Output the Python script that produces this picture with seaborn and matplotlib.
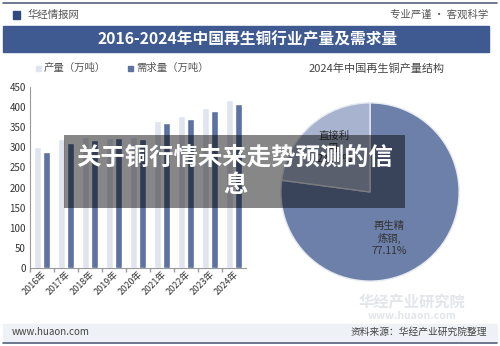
import numpy as np
import pandas as pd
import matplotlib
matplotlib.use("Agg")
import matplotlib.pyplot as plt
from matplotlib.patches import Rectangle
import seaborn as sns

# data
years = ["2016年", "2017年", "2018年", "2019年", "2020年", "2021年", "2022年", "2023年", "2024年"]
output = [300, 321, 325, 324, 326, 366, 377, 397, 417]      # 产量（万吨）
demand = [289, 311, 319, 323, 321, 360, 370, 391, 407]      # 需求量（万吨）
pie_labels = ["再生精\n炼铜,\n77.11%", "直接利\n用,\n22.89%"]
pie_values = [77.11, 22.89]

series_names = ["产量（万吨）", "需求量（万吨）"]
bar_colors = ["#dfe4ee", "#5d72a0"]
pie_colors = ["#6c80aa", "#a8b4cf"]

sns.set_theme(style="white")
plt.rcParams["font.family"] = ["Noto Sans CJK SC", "DejaVu Sans"]

df = pd.DataFrame({
    "year": years * 2,
    "value": output + demand,
    "series": [series_names[0]] * len(years) + [series_names[1]] * len(years),
})

fig = plt.figure(figsize=(5, 3.46), dpi=100)
fig.patch.set_facecolor("white")
W, H = 500, 346


def fx(px):
    return px / W


def fy(py):
    return 1 - py / H


# header strip
fig.add_artist(plt.Line2D([fx(3), fx(497)], [fy(3), fy(3)], color="#55607a", lw=1.2))
fig.add_artist(Rectangle((fx(13), fy(19)), fx(7), 8 / H, color="#2f4a80"))
fig.text(fx(28), fy(15), "华经情报网", fontsize=7.5, color="#555555", va="center")
fig.text(fx(488), fy(15), "专业严谨 • 客观科学", fontsize=7.5, color="#555555", va="center", ha="right")
fig.add_artist(Rectangle((fx(3), fy(52)), fx(486), 26 / H, color="#3e5a91"))
fig.text(fx(248), fy(39), "2016-2024年中国再生铜行业产量及需求量", fontsize=11.3,
         fontweight="bold", color="white", ha="center", va="center")

# bar chart
ax = fig.add_axes([fx(30), fy(268), fx(216), 181 / H])
sns.barplot(data=df, x="year", y="value", hue="series", palette=bar_colors,
            width=0.7, gap=0.12, ax=ax, legend=False, saturation=1)
ax.set_ylim(0, 450)
ax.set_yticks(np.arange(0, 451, 50))
ax.set_xlabel("")
ax.set_ylabel("")
for s in ["top", "right"]:
    ax.spines[s].set_visible(False)
ax.spines["left"].set_color("#999999")
ax.spines["bottom"].set_color("#999999")
ax.spines["left"].set_linewidth(0.8)
ax.spines["bottom"].set_linewidth(0.8)
ax.tick_params(axis="y", labelsize=7, colors="#333333", length=0, pad=3)
ax.tick_params(axis="x", labelsize=6.5, colors="#333333", length=3, bottom=True,
               width=0.6, pad=1)
ax.set_xticks(np.arange(len(years)) - 0.5, minor=True)
ax.tick_params(axis="x", which="minor", length=3, bottom=True, color="#999999")
ax.tick_params(axis="x", which="major", length=0)
for lab in ax.get_xticklabels():
    lab.set_rotation(45)
    lab.set_ha("right")
    lab.set_rotation_mode("anchor")
ax.set_facecolor("none")

# legend
for i, (name, c) in enumerate(zip(series_names, bar_colors)):
    x0 = 36 + i * 92
    fig.add_artist(Rectangle((fx(x0), fy(71)), fx(5), 5 / H, color=c))
    fig.text(fx(x0 + 8), fy(68), name, fontsize=7.5, color="#555555", va="center")

# pie chart
fig.text(fx(377), fy(69), "2024年中国再生铜产量结构", fontsize=8, color="#444444",
         ha="center", va="center")
pax = fig.add_axes([fx(280), fy(282), fx(180), 180 / H])
wedges, texts = pax.pie(pie_values, labels=pie_labels, colors=pie_colors, startangle=90,
                        counterclock=False, labeldistance=0.6,
                        wedgeprops=dict(edgecolor="#e6e9ef", linewidth=1),
                        textprops=dict(fontsize=7.5, color="#333333", ha="center",
                                       va="center", multialignment="center"))
# nudge the big slice's label a little inward like the reference
texts[0].set_position((0.22, -0.52))
texts[1].set_position((-0.4, 0.5))
pax.set_xlim(-1.01, 1.01)
pax.set_ylim(-1.01, 1.01)
pax.set_aspect("equal")

# watermark
fig.text(fx(412), fy(302), "华经产业研究院", fontsize=11, color="#e2e5ea",
         ha="center", va="center", fontweight="bold")
fig.text(fx(412), fy(316), "www.huaon.com", fontsize=7.5, color="#e2e5ea",
         ha="center", va="center", fontweight="bold")

# footer
fig.add_artist(Rectangle((fx(3), fy(342)), fx(494), 18 / H, color="#eef1f5"))
fig.add_artist(plt.Line2D([fx(3), fx(497)], [fy(343), fy(343)], color="#55607a", lw=1.2))
fig.text(fx(12), fy(332), "www.huaon.com", fontsize=7, color="#444444", va="center")
fig.text(fx(487), fy(332), "资料来源：华经产业研究院整理", fontsize=7, color="#444444",
         va="center", ha="right")

# overlay caption box
fig.add_artist(Rectangle((fx(64), fy(208)), fx(341), 73 / H, color="black", alpha=0.47, lw=0))
fig.text(fx(235), fy(172), "关于铜行情未来走势预测的信\n息", fontsize=17.6, color="white",
         fontweight="bold", ha="center", va="center", multialignment="center",
         linespacing=1.1)

fig.savefig("out.png", dpi=100)
